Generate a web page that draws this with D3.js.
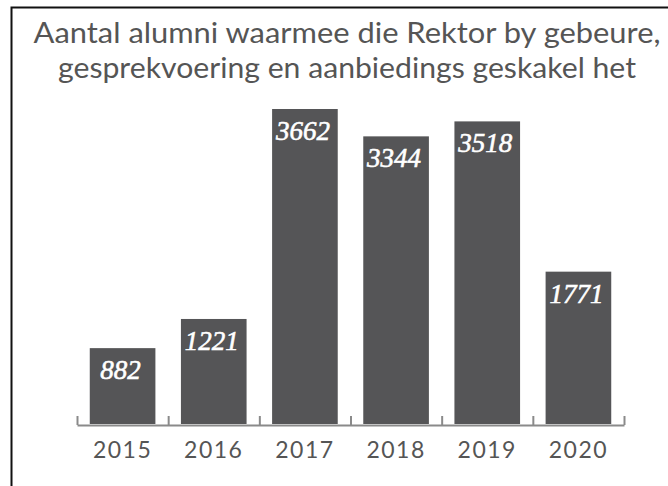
<!DOCTYPE html>
<html>
<head>
<meta charset="utf-8">
<script src="https://cdn.jsdelivr.net/npm/d3@7"></script>
<style>
  html, body { margin: 0; padding: 0; background: #fff; }
  svg { display: block; }
</style>
</head>
<body>
<div id="chart"></div>
<script>
const years = ["2015", "2016", "2017", "2018", "2019", "2020"];
const alumni = [882, 1221, 3662, 3344, 3518, 1771];
const titleLines = [
  "Aantal alumni waarmee die Rektor by gebeure,",
  "gesprekvoering en aanbiedings geskakel het"
];

const W = 668, H = 486;
const svg = d3.select("#chart").append("svg")
  .attr("width", W)
  .attr("height", H);

// frame (only top + left edges are visible in the crop)
svg.append("path")
  .attr("d", `M11.5,${H} V7.5 H${W}`)
  .attr("fill", "none")
  .attr("stroke", "#111")
  .attr("stroke-width", 2);

// title
const titleWidths = [627, 578];
svg.selectAll(".title")
  .data(titleLines)
  .enter()
  .append("text")
  .attr("class", "title")
  .attr("x", 347)
  .attr("y", (d, i) => 43 + i * 35)
  .attr("text-anchor", "middle")
  .attr("font-family", "Lato, 'Open Sans', sans-serif")
  .attr("font-size", 29)
  .attr("fill", "#555")
  .attr("textLength", (d, i) => titleWidths[i])
  .attr("lengthAdjust", "spacingAndGlyphs")
  .text(d => d);

const plotLeft = 77, plotRight = 624, plotBase = 424, plotTop = 109;

const x = d3.scaleBand()
  .domain(years)
  .range([plotLeft, plotRight])
  .paddingInner(0.28)
  .paddingOuter(0.14);

const y = d3.scaleLinear()
  .domain([0, d3.max(alumni)])
  .range([plotBase, plotTop]);

const data = years.map((yr, i) => ({year: yr, value: alumni[i]}));

svg.selectAll(".bar")
  .data(data)
  .enter()
  .append("rect")
  .attr("class", "bar")
  .attr("x", d => x(d.year))
  .attr("y", d => y(d.value))
  .attr("width", x.bandwidth())
  .attr("height", d => plotBase - y(d.value))
  .attr("fill", "#555557");

// edge ticks between categories
const edge = d3.scaleLinear().domain([0, years.length]).range([plotLeft, plotRight]);
const edgeAxis = svg.append("g")
  .attr("transform", `translate(0,${plotBase + 1})`)
  .call(d3.axisBottom(edge)
    .tickValues(d3.range(years.length + 1))
    .tickSize(-9)
    .tickSizeOuter(0)
    .tickFormat(""));
edgeAxis.selectAll("path, line")
  .attr("stroke", "#8a8a8a")
  .attr("stroke-width", 2);

// category labels
const labelAxis = svg.append("g")
  .attr("transform", `translate(0,${plotBase + 1})`)
  .call(d3.axisBottom(x).tickSize(0).tickPadding(17));
labelAxis.select(".domain").remove();
labelAxis.selectAll("text")
  .attr("font-family", "Lato, 'Open Sans', sans-serif")
  .attr("font-size", 23)
  .attr("letter-spacing", 1.5)
  .attr("fill", "#555")
  .attr("dy", "0.71em");

// value labels
svg.selectAll(".val")
  .data(data)
  .enter()
  .append("text")
  .attr("class", "val")
  .attr("x", d => x(d.year) + x.bandwidth() / 2 - 2)
  .attr("y", d => y(d.value) + 31)
  .attr("text-anchor", "middle")
  .attr("font-family", "'Liberation Serif', 'DejaVu Serif', serif")
  .attr("font-style", "italic")
  .attr("font-size", 27)
  .attr("fill", "#fff")
  .attr("stroke", "#fff")
  .attr("stroke-width", 0.6)
  .text(d => d.value);
</script>
</body>
</html>
